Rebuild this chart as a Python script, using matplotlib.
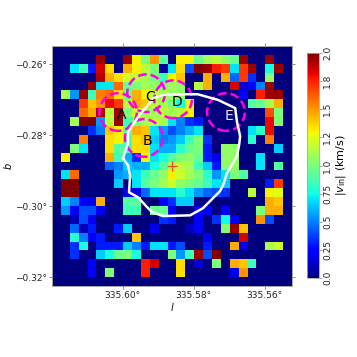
import numpy as np
import matplotlib
matplotlib.use("Agg")
import matplotlib.pyplot as plt
from matplotlib.patches import Circle

N = 27
l_left, l_right = 335.6199, 335.5523
b_bottom, b_top = -0.3225, -0.2549

# |v_in| map: sparse rows {column: value}, everything else is 0
rows = {
 1: {5:1.95,8:1.95,9:1.3,10:1.0,11:1.5,12:.9,14:1.3,15:1.3,16:.95,17:1.1,18:1.15,19:1.05,20:.95,21:1.95,24:1.95},
 2: {2:.7,3:.85,4:.3,5:1.85,6:1.35,8:1.45,9:1.3,10:1.15,11:1.0,12:.05,13:.7,14:1.35,15:.4,16:2,17:1.95,18:1.75,19:1.7,20:.7,21:1.7,22:1.95,24:.75,25:1.95},
 3: {5:1.9,6:1.45,7:1.35,8:1.2,9:1.15,10:1.1,11:1.0,12:.85,13:1.3,14:1.4,17:1.45,19:1.45,20:.45,21:1.7,22:.35,24:1.05},
 4: {4:1.95,5:.7,6:.7,7:1.6,8:.95,9:1.0,10:1.1,11:1.05,12:1.0,13:1.1,14:1.05,16:1.15,17:1.45,20:1.85,21:.15,22:.25,23:.5,24:1.95},
 5: {1:1.1,2:.55,3:1.95,4:.85,5:1.55,6:1.6,7:1.35,8:.95,9:1.45,10:1.3,11:1.15,12:1.1,13:1.05,14:1.05,21:.25,23:1.75,24:1.95,25:1.95},
 6: {3:1.7,4:1.4,5:1.5,6:1.8,7:1.7,8:1.15,9:1.45,10:1.4,11:1.15,12:1.1,13:1.0,14:.75,15:1.3,22:.9,23:.95,24:1.1,25:1.45},
 7: {3:1.6,4:1.45,5:1.9,6:1.15,7:1.95,8:1.0,9:1.2,10:1.1,11:1.1,12:1.15,13:1.1,14:1.15,15:1.3,24:1.65,25:1.0},
 8: {2:1.1,3:2,4:2,5:.55,6:1.15,7:1.95,8:.85,9:1.0,10:1.1,11:1.15,12:1.1,13:.7,14:.5,15:.35,16:.3,24:1.8,25:1.0},
 9: {4:.35,5:.5,6:1.4,7:1.3,8:.9,9:1.45,10:1.4,11:.7,12:.55,13:.4,14:.5,15:.6,16:.7,22:.7,23:.8,24:1.8},
 10: {3:1.55,6:1.35,7:1.3,8:.85,9:1.35,10:1.4,11:.65,12:.5,13:.55,14:.65,15:.85,16:1.0,17:.35,22:.8,24:1.55},
 11: {2:1.0,3:.7,6:1.35,7:.9,8:.85,9:1.35,10:1.35,11:.7,12:.6,13:.6,14:.8,15:.95,16:1.0,17:.3,19:1.05,20:1.05,25:.65},
 12: {1:1.3,6:1.45,7:.85,8:.6,9:.35,10:1.3,11:.7,12:.75,13:.9,14:1.0,15:1.05,16:.95,17:.3,18:.2,19:1.05,20:1.05,23:.7},
 13: {6:.45,7:.5,8:.65,9:.6,10:.6,11:.75,12:.9,13:1.1,14:1.15,15:1.1,16:.85,17:.65,18:.3,19:1.05,20:1.05,23:.7,25:.9},
 14: {1:.7,2:1.6,7:.55,8:.6,9:.7,10:.85,11:.95,12:1.05,13:1.3,14:1.2,15:1.1,16:1.0,17:.8,18:.55,19:.7,20:1.0,21:.9},
 15: {1:2,2:2,7:.65,9:.7,10:.9,11:1.0,12:1.1,13:1.2,14:1.05,15:1.0,16:.95,17:.85,18:.7,19:.65,24:.3,25:1.7},
 16: {1:2,2:2,8:.2,9:.2,10:.45,11:.7,12:.7,13:.7,14:.8,15:.7,16:.55,17:.45,18:.4,19:.35,22:1.15,24:1.3,25:1.25},
 17: {1:.65,2:.5,3:.25,4:.2,5:1.45,8:.9,9:.9,12:.25,13:.35,14:.65,15:.65,24:1.45,25:1.4},
 18: {1:.55,2:.2,3:.4,4:.4,5:.2,8:.85,9:.85,11:.95,12:.95,13:.25,16:.25,17:.25,19:.25,23:1.0,24:1.45,25:1.45},
 19: {2:.1,3:.4,4:.2,12:.35,13:.3,16:.25,18:.35,19:.75,20:.2,23:1.5,24:.4},
 20: {2:.45,3:.1,4:.3,7:.3,8:.65,11:.2,15:.1,16:.25,19:1.0,20:1.95,21:1.4},
 21: {2:.8,3:.5,4:.2,5:.3,9:1.4,17:.2,21:1.85},
 22: {2:.35,3:.75,5:.3,6:.3,7:.3,8:.65,9:.5,10:.3,11:.7,12:.7,13:.3,14:.4,17:.3,20:1.45,21:.2,24:1.1,25:1.2},
 23: {2:.35,5:.65,6:.75,7:.95,8:1.0,9:.75,13:1.0,14:.55,15:.85,16:1.95,17:.4,18:2.0},
 24: {4:.25,10:1.75,11:1.85,14:1.35,16:.15,18:1.0,20:1.45,21:1.4,22:.85},
 25: {4:.25,6:1.0,10:1.75,14:1.35,20:.2,21:1.5},
}

contour_l = [335.5999,335.5985,335.5979,335.5982,335.5957,335.5931,335.5917,335.5886,335.5810,335.5774,335.5726,335.5717,335.5706,335.5678,335.5672,335.5669,335.5678,335.5683,335.5731,335.5788,335.5860,335.5886,335.5914,335.5931,335.5959,335.5985,335.5985,335.5999]
contour_b = [-0.2865,-0.2885,-0.2913,-0.2961,-0.2975,-0.3003,-0.3017,-0.3028,-0.3026,-0.3006,-0.2958,-0.2941,-0.2907,-0.2859,-0.2828,-0.2803,-0.2763,-0.2724,-0.2701,-0.2685,-0.2685,-0.2687,-0.2696,-0.2718,-0.2752,-0.2792,-0.2823,-0.2865]

names = ["A","B","C","D","E"]
circle_l = [335.6013,335.5940,335.5934,335.5858,335.5709]
circle_b = [-0.2735,-0.2808,-0.2682,-0.2699,-0.2735]
circle_r = 0.0053
label_l = [335.6002,335.5929,335.5923,335.5847,335.5700]
label_b = [-0.2744,-0.2817,-0.2693,-0.2707,-0.2746]
label_colors = ["black","black","black","black","#e8e8f0"]
cross_l, cross_b = 335.5861, -0.2887

l_ticks = [335.60,335.58,335.56]
l_labels = ["335.60°","335.58°","335.56°"]
b_ticks = [-0.26,-0.28,-0.30,-0.32]
b_labels = ["−0.26°","−0.28°","−0.30°","−0.32°"]
cb_ticks = [0,.25,.5,.75,1,1.25,1.5,1.75,2]
cb_labels = ["0.0","0.25","0.5","0.75","1.0","1.2","1.5","1.8","2.0"]

grid = np.zeros((N,N))
for r, vals in rows.items():
    for c, v in vals.items():
        grid[r,c] = v

S = 357
fig = plt.figure(figsize=(S/100,S/100), dpi=100)
ax = fig.add_axes([52/S, 1-286/S, 240/S, 240/S])
im = ax.imshow(grid, cmap="jet", vmin=0, vmax=2, origin="upper", aspect="equal",
               extent=(l_left,l_right,b_bottom,b_top), interpolation="nearest")
ax.plot(contour_l, contour_b, color="white", lw=1.8, solid_joinstyle="round")
for cl, cb_, n, ll, lb, lc in zip(circle_l, circle_b, names, label_l, label_b, label_colors):
    ax.add_patch(Circle((cl,cb_), circle_r, fill=False, ec="#ff00e6", lw=1.8, ls=(0,(3.5,1.6))))
    ax.text(ll, lb, n, color=lc, fontsize=10, ha="center", va="center")
ax.plot([cross_l],[cross_b], marker="+", color="#ff4020", ms=7, mew=0.9)
ax.set_xlim(l_left,l_right); ax.set_ylim(b_bottom,b_top)
ax.set_xticks(l_ticks, l_labels, fontsize=6.5)
ax.set_yticks(b_ticks, b_labels, fontsize=6.5)
ax.tick_params(top=True, right=True, length=2, width=.6, pad=1.5, color="#777777", labelcolor="#222222")
for s in ax.spines.values():
    s.set_linewidth(.7); s.set_color("#a8a8a8")
ax.set_xlabel("$l$", fontsize=7)
ax.set_ylabel("$b$", fontsize=7)
ax.yaxis.set_label_coords(-0.16, 0.5)
ax.xaxis.set_label_coords(0.5, -0.0625)

cax = fig.add_axes([307/S, 1-278/S, 11.5/S, 225/S])
cbar = fig.colorbar(im, cax=cax)
cbar.set_ticks(cb_ticks, labels=cb_labels)
cax.tick_params(labelsize=6.5, length=2, width=.5, pad=1.5, labelrotation=90, color="#777777", labelcolor="#222222")
for t in cax.get_yticklabels():
    t.set_va("center")
cbar.outline.set_linewidth(.6)
cbar.outline.set_edgecolor("#a8a8a8")
cbar.set_label(r"$|v_{\rm in}|$ (km/s)", fontsize=8, labelpad=1.5)
fig.savefig("out.png", dpi=100)
